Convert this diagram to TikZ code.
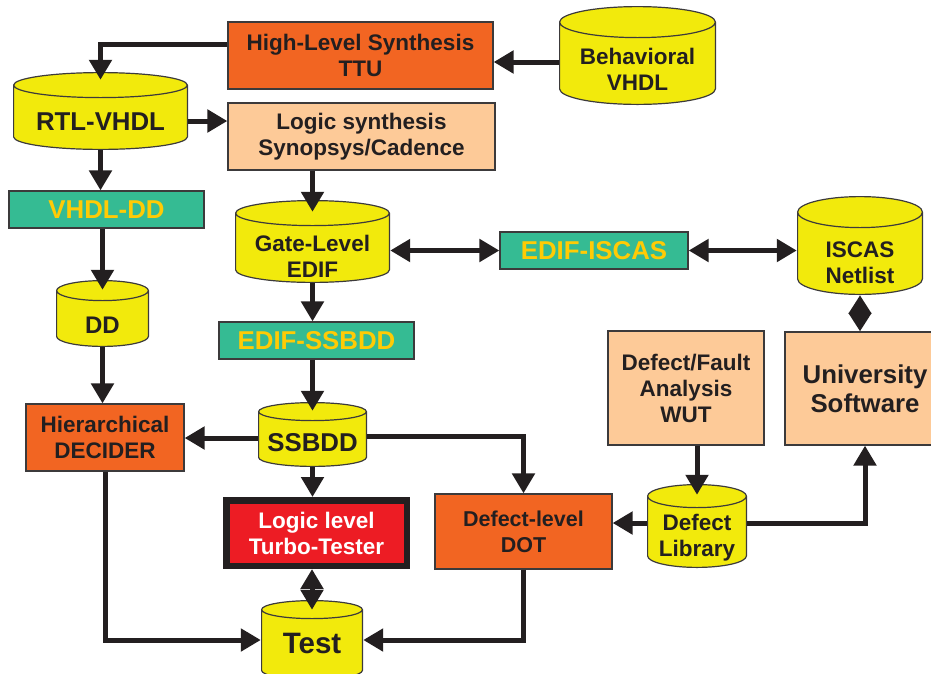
\documentclass[tikz,border=0pt]{standalone}
\usepackage{fontspec}
\setmainfont{Liberation Sans}
\usetikzlibrary{arrows.meta,positioning,calc}

\definecolor{inkdark}{HTML}{231F20}
\definecolor{edgegray}{HTML}{3C3A3B}
\definecolor{synorange}{HTML}{F26522}
\definecolor{toolpeach}{HTML}{FDCA98}
\definecolor{dbyellow}{HTML}{F2EA0C}
\definecolor{convteal}{HTML}{35BB93}
\definecolor{convgold}{HTML}{FFCB05}
\definecolor{testred}{HTML}{ED1C24}

\begin{document}
\begin{tikzpicture}[x=1pt, y=-1pt,
    every node/.style={text=inkdark, align=center, inner sep=0pt},
    small/.style={font=\fontsize{22.5}{26}\selectfont\bfseries},
    large/.style={font=\fontsize{25.8}{29}\selectfont\bfseries},
    box/.style={draw=edgegray, line width=1.2pt, rectangle},
    tool/.style={box, fill=#1},
    conv/.style={box, fill=convteal, text=convgold, large},
    lid/.store in=\dblid, lid=10pt,
    db/.style={rectangle, path picture={
        \filldraw[fill=dbyellow, draw=edgegray, line width=1.2pt]
          let \p1=(path picture bounding box.north west),
              \p2=(path picture bounding box.south east),
              \n1={(\x2-\x1)/2-0.6pt}
          in (\x1+0.6pt, \y1-\dblid-0.6pt) -- (\x1+0.6pt, \y2+\dblid+0.6pt)
             arc[start angle=180, end angle=360, x radius=\n1, y radius=\dblid]
             -- (\x2-0.6pt, \y1-\dblid-0.6pt)
             arc[start angle=0, end angle=180, x radius=\n1, y radius=\dblid] -- cycle
             (\x1+0.6pt, \y1-\dblid-0.6pt)
             arc[start angle=180, end angle=360, x radius=\n1, y radius=\dblid];}},
    arr/.style={line width=5pt, draw=inkdark, -{Triangle[length=20pt,width=22pt]}},
    darr/.style={line width=5pt, draw=inkdark, {Triangle[length=20pt,width=22pt]}-{Triangle[length=20pt,width=22pt]}},
    link/.style={line width=5pt, draw=inkdark, {Triangle[length=18.5pt,width=22pt]}-{Triangle[length=18.5pt,width=22pt]}}]
    \useasboundingbox (0,0) rectangle (931,673);

    % synthesis front end
    \node[tool=synorange, small, minimum width=265pt, minimum height=67pt] (hls) at (360.5,55.5) {High-Level Synthesis\\TTU};
    \node[db, lid=15.5pt, minimum width=157pt, minimum height=99pt,
          label={[small, yshift=-14pt]center:{Behavioral\\VHDL}}] (beh) at (637.5,55.5) {};
    \node[db, lid=12.5pt, minimum width=175pt, minimum height=78pt,
          label={[large, yshift=-11pt]center:RTL-VHDL}] (rtl) at (100.5,111) {};
    \node[tool=toolpeach, small, minimum width=267pt, minimum height=67pt] (logsyn) at (361.5,136.5) {Logic synthesis\\Synopsys/Cadence};

    % converters and netlists
    \node[conv, minimum width=195pt, minimum height=37pt] (vhdldd) at (106.5,209.5) {VHDL-DD};
    \node[db, lid=12.5pt, minimum width=155pt, minimum height=83pt,
          label={[small, yshift=-14.5pt]center:{Gate-Level\\EDIF}}] (gate) at (312.5,241.5) {};
    \node[conv, minimum width=188pt, minimum height=37pt] (edifiscas) at (594,250.5) {EDIF-ISCAS};
    \node[db, lid=15.5pt, minimum width=126pt, minimum height=99pt,
          label={[small, yshift=-17pt]center:{ISCAS\\Netlist}}] (iscas) at (860,245.5) {};
    \node[db, lid=10pt, minimum width=93pt, minimum height=67pt,
          label={[font=\fontsize{24}{28}\selectfont\bfseries, yshift=-12pt]center:DD}] (dd) at (102.5,313.5) {};
    \node[conv, minimum width=195pt, minimum height=37pt] (edifssbdd) at (316.5,340.5) {EDIF-SSBDD};

    % tools
    \node[tool=toolpeach, small, minimum width=156pt, minimum height=114pt] (dfa) at (686,388) {Defect/Fault\\Analysis\\WUT};
    \node[tool=toolpeach, large, minimum width=160pt, minimum height=113pt] (univ) at (865,388.5) {University\\Software};
    \node[tool=synorange, small, minimum width=158pt, minimum height=67pt] (hier) at (105,437.5) {Hierarchical\\DECIDER};
    \node[db, lid=9pt, minimum width=109pt, minimum height=65pt,
          label={[large, yshift=-8.5pt]center:SSBDD}] (ssbdd) at (312.5,434.5) {};
    \node[draw=inkdark, line width=6.5pt, fill=testred, text=white, small, minimum width=180.5pt, minimum height=65.5pt] (turbo) at (316.5,533) {Logic level\\Turbo-Tester};
    \node[tool=synorange, font=\fontsize{21.5}{26}\selectfont\bfseries, minimum width=177pt, minimum height=75pt] (dot) at (523.5,531.5) {Defect-level\\DOT};
    \node[db, lid=11.5pt, minimum width=100pt, minimum height=84pt,
          label={[small, yshift=-12pt]center:{Defect\\Library}}] (lib) at (697,526) {};
    \node[db, lid=9pt, minimum width=102pt, minimum height=80pt,
          label={[font=\fontsize{29.5}{34}\selectfont\bfseries, yshift=-3pt]center:Test}] (test) at (312,640) {};

    % flow
    \draw[arr] ([yshift=-6.5pt]beh.west) -- ([yshift=-6.5pt]beh.west -| hls.east);
    \draw[arr] ([yshift=11pt]hls.west) -| ([yshift=-8pt]rtl.north);
    \draw[arr] ([yshift=-10pt]rtl.east) -- ([yshift=-10pt]rtl.east -| logsyn.west);
    \draw[arr] (rtl.south) -- (rtl.south |- vhdldd.north);
    \draw[arr] (logsyn.south -| gate.north) -- ([yshift=-12pt]gate.north);
    \draw[arr] (vhdldd.south -| dd.north) -- ([yshift=-10pt]dd.north);
    \draw[arr] (dd.south) -- (dd.south |- hier.north);
    \draw[darr] (edifiscas.west -| gate.east) -- (edifiscas.west);
    \draw[darr] (edifiscas.east) -- (edifiscas.east -| iscas.west);
    \draw[link] (iscas.south) -- (iscas.south |- univ.north);
    \draw[arr] (gate.south) -- (gate.south |- edifssbdd.north);
    \draw[arr] (edifssbdd.south -| ssbdd.north) -- ([yshift=-9pt]ssbdd.north);
    \draw[arr] ([yshift=-3.5pt]ssbdd.west) -- ([yshift=-3.5pt]ssbdd.west -| hier.east);
    \draw[arr] ([yshift=-1.5pt]ssbdd.east) -| (dot.north);
    \draw[arr] (ssbdd.south) -- (ssbdd.south |- turbo.north);
    \draw[darr] (turbo.south -| test.north) -- ([yshift=-10pt]test.north);
    \draw[arr] (dfa.south -| lib.north) -- ([yshift=-11pt]lib.north);
    \draw[arr] ([yshift=3pt]lib.west) -- ([yshift=3pt]lib.west -| dot.east);
    \draw[arr] ([yshift=3pt]lib.east) -| (univ.south);
    \draw[arr] (hier.south) |- (test.west);
    \draw[arr] (dot.south) |- (test.east);
\end{tikzpicture}
\end{document}
